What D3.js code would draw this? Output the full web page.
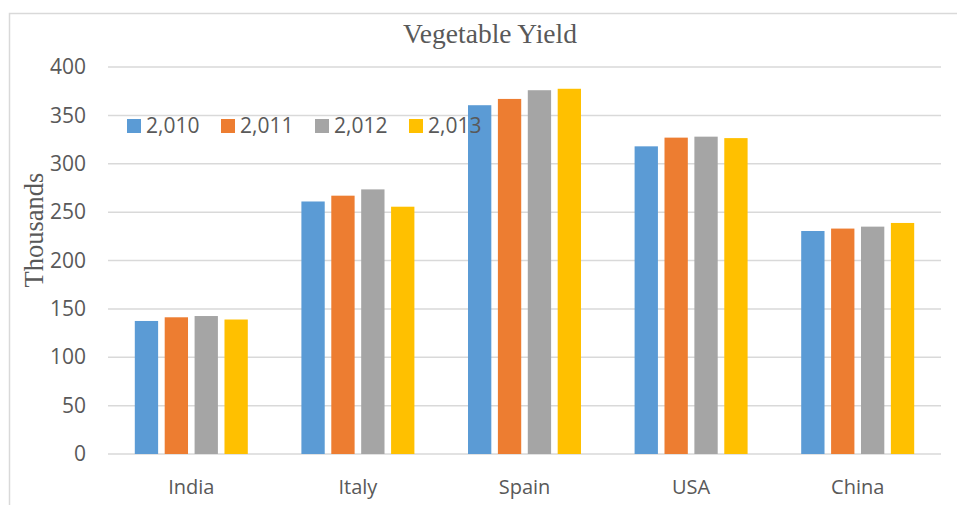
<!DOCTYPE html>
<html>
<head>
<meta charset="utf-8">
<script src="https://cdn.jsdelivr.net/npm/d3@7"></script>
<style>
  body { margin: 0; background: #fff; }
  text { fill: #595959; }
</style>
</head>
<body>
<script>
var categories = ['India', 'Italy', 'Spain', 'USA', 'China'];
var years = ['2,010', '2,011', '2,012', '2,013'];
var yield2010 = [137.5, 261, 360.5, 318, 230.5];
var yield2011 = [141.3, 267, 367, 327, 233];
var yield2012 = [142.6, 273.5, 376, 328, 235];
var yield2013 = [139, 255.6, 377.5, 326.5, 238.8];
var yTicks = [0, 50, 100, 150, 200, 250, 300, 350, 400];
var colors = ['#5b9bd5', '#ed7d31', '#a5a5a5', '#ffc000'];

var series = [yield2010, yield2011, yield2012, yield2013];

var width = 957,
  height = 505;

var margin = { top: 67, right: 16, bottom: 51, left: 108 };

var svg = d3
  .select('body')
  .append('svg')
  .attr('width', width)
  .attr('height', height);

// chart frame
svg
  .append('rect')
  .attr('x', 9.5)
  .attr('y', 13.5)
  .attr('width', 960)
  .attr('height', 500)
  .attr('fill', 'none')
  .attr('stroke', '#d9d9d9')
  .attr('stroke-width', 1.5);

var x0 = d3
  .scaleBand()
  .domain(categories)
  .range([margin.left, width - margin.right]);

var x1 = d3
  .scaleBand()
  .domain(years)
  .range([0, 113])
  .paddingInner(0.22);

var y = d3
  .scaleLinear()
  .domain([0, 400])
  .range([height - margin.bottom, margin.top]);

// gridlines
svg
  .append('g')
  .selectAll('line')
  .data(yTicks)
  .enter()
  .append('line')
  .attr('x1', margin.left)
  .attr('x2', width - margin.right)
  .attr('y1', d => y(d))
  .attr('y2', d => y(d))
  .attr('stroke', '#d9d9d9')
  .attr('stroke-width', 1.5);

// y axis labels
var yAxis = svg
  .append('g')
  .attr('transform', 'translate(' + 86 + ',0)')
  .call(d3.axisLeft(y).tickValues(yTicks).tickSize(0).tickPadding(0));
yAxis.select('.domain').remove();
yAxis
  .selectAll('text')
  .attr('font-family', 'Open Sans, sans-serif')
  .attr('font-size', 21)
  .style('fill', '#595959');

// x axis labels
var xAxis = svg
  .append('g')
  .attr('transform', 'translate(0,' + (height - margin.bottom) + ')')
  .call(d3.axisBottom(x0).tickSize(0).tickPadding(26));
xAxis.select('.domain').remove();
xAxis
  .selectAll('text')
  .attr('font-family', 'Open Sans, sans-serif')
  .attr('font-size', 20)
  .style('fill', '#595959');

// bars
var groups = svg
  .append('g')
  .selectAll('g')
  .data(categories)
  .enter()
  .append('g')
  .attr('transform', function(d) {
    return 'translate(' + (x0(d) + x0.bandwidth() / 2 - 56.5) + ',0)';
  });

groups
  .selectAll('rect')
  .data(function(d, i) {
    return series.map(function(s, j) {
      return { year: years[j], value: s[i], color: colors[j] };
    });
  })
  .enter()
  .append('rect')
  .attr('x', d => x1(d.year))
  .attr('y', d => y(d.value))
  .attr('width', x1.bandwidth())
  .attr('height', d => y(0) - y(d.value))
  .attr('fill', d => d.color);

// legend
var legend = svg
  .append('g')
  .selectAll('g')
  .data(years)
  .enter()
  .append('g')
  .attr('transform', function(d, i) {
    return 'translate(' + (127 + i * 94) + ',119)';
  });

legend
  .append('rect')
  .attr('width', 14)
  .attr('height', 14)
  .attr('fill', (d, i) => colors[i]);

legend
  .append('text')
  .attr('x', 19)
  .attr('y', 14)
  .attr('font-family', 'Open Sans, sans-serif')
  .attr('font-size', 21)
  .text(d => d);

// title
svg
  .append('text')
  .attr('x', 490)
  .attr('y', 43)
  .attr('text-anchor', 'middle')
  .attr('font-family', 'Liberation Serif, serif')
  .attr('font-size', 27.5)
  .text('Vegetable Yield');

// y axis title
svg
  .append('text')
  .attr('transform', 'translate(43,' + 230 + ') rotate(-90)')
  .attr('text-anchor', 'middle')
  .attr('font-family', 'Liberation Serif, serif')
  .attr('font-size', 26.5)
  .text('Thousands');
</script>
</body>
</html>
